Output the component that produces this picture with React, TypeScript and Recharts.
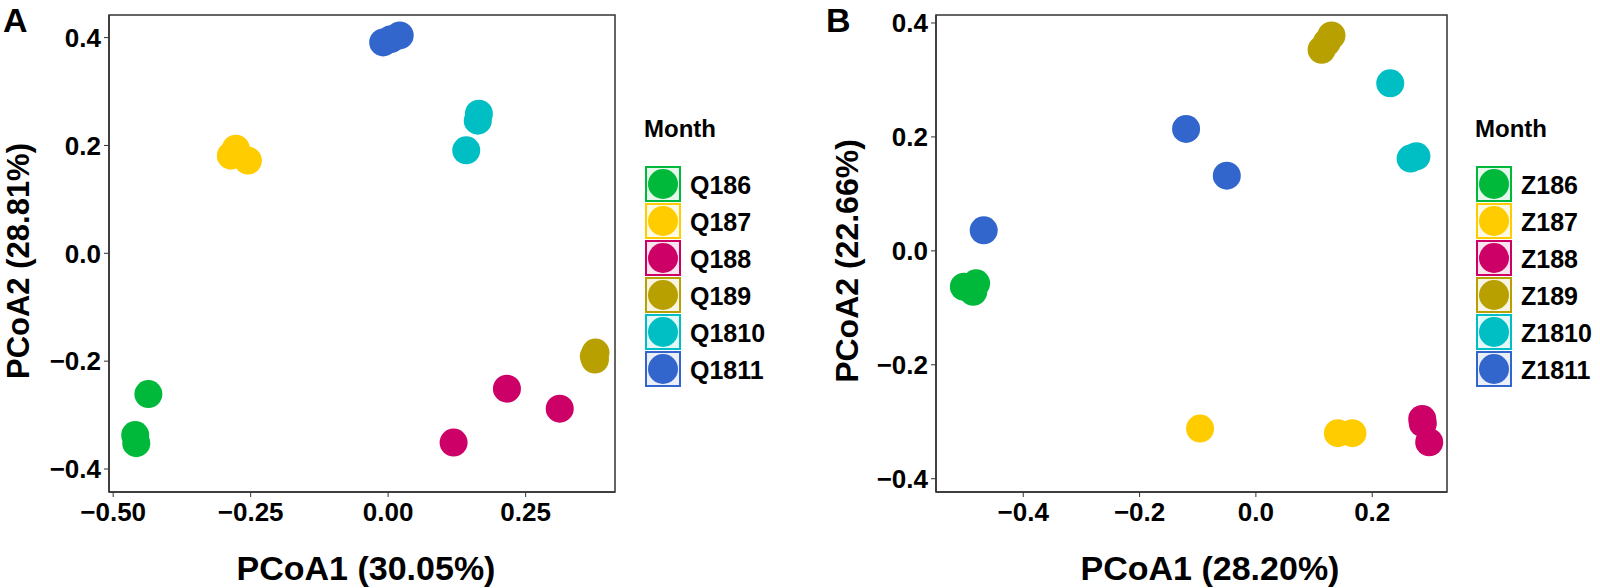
import { ScatterChart, Scatter, XAxis, YAxis, ReferenceArea } from "recharts";

// group colours, same order in both panels
const colors = ["#00B83A", "#FFCC00", "#CC0066", "#B8A000", "#00BFC4", "#3366CC"];
const monthsA = ["Q186", "Q187", "Q188", "Q189", "Q1810", "Q1811"];
const monthsB = ["Z186", "Z187", "Z188", "Z189", "Z1810", "Z1811"];

// panel A points [PCoA1, PCoA2]
const q186 = [[-0.436, -0.261], [-0.46, -0.337], [-0.458, -0.352]];
const q187 = [[-0.277, 0.194], [-0.286, 0.181], [-0.255, 0.172]];
const q188 = [[0.216, -0.251], [0.312, -0.288], [0.119, -0.351]];
const q189 = [[0.377, -0.184], [0.374, -0.191], [0.376, -0.197]];
const q1810 = [[0.165, 0.259], [0.163, 0.246], [0.142, 0.191]];
const q1811 = [[-0.009, 0.391], [0.005, 0.397], [0.021, 0.404]];

// panel B points
const z186 = [[-0.502, -0.063], [-0.481, -0.057], [-0.486, -0.072]];
const z187 = [[-0.096, -0.312], [0.141, -0.32], [0.166, -0.32]];
const z188 = [[0.286, -0.295], [0.287, -0.303], [0.298, -0.336]];
const z189 = [[0.113, 0.353], [0.122, 0.366], [0.13, 0.378]];
const z1810 = [[0.231, 0.294], [0.276, 0.166], [0.266, 0.162]];
const z1811 = [[-0.12, 0.214], [-0.05, 0.132], [-0.468, 0.036]];

const xTicksA = [-0.5, -0.25, 0, 0.25];
const xTicksB = [-0.4, -0.2, 0, 0.2];
const yTicks = [-0.4, -0.2, 0, 0.2, 0.4];

const font = "'Liberation Sans', Arial, Helvetica, sans-serif";

const fmt = (d: number) => (v: number) => {
  const s = Math.abs(v).toFixed(d);
  return v < 0 ? "\u2212" + s : s;
};

const toRows = (pts: number[][]) => pts.map(([x, y]) => ({ x, y }));

function Panel(props: any) {
  const { left, width, yAxisW, rightM, xDom, yDom, xTicks, xDec, groups } = props;
  const tick = { fill: "#000", fontSize: 26, fontWeight: "bold", fontFamily: font };
  return (
    <div style={{ position: "absolute", left, top: 0 }}>
      <ScatterChart width={width} height={588} margin={{ top: 15, right: rightM, bottom: 0, left: 0 }}>
        <XAxis
          type="number"
          dataKey="x"
          domain={xDom}
          ticks={xTicks}
          allowDataOverflow
          tickFormatter={fmt(xDec)}
          height={96}
          tick={tick}
          tickSize={5}
          tickMargin={6}
          axisLine={{ stroke: "#333", strokeWidth: 1.5 }}
          tickLine={{ stroke: "#333" }}
        />
        <YAxis
          type="number"
          dataKey="y"
          domain={yDom}
          ticks={yTicks}
          allowDataOverflow
          tickFormatter={fmt(1)}
          width={yAxisW}
          tick={tick}
          tickSize={5}
          tickMargin={3}
          axisLine={{ stroke: "#333", strokeWidth: 1.5 }}
          tickLine={{ stroke: "#333" }}
        />
        <ReferenceArea x1={xDom[0]} x2={xDom[1]} y1={yDom[0]} y2={yDom[1]} fill="none" stroke="#333" strokeWidth={1.5} />
        {groups.map((g: number[][], i: number) => (
          <Scatter
            key={i}
            data={toRows(g)}
            isAnimationActive={false}
            shape={(p: any) => <circle cx={p.cx} cy={p.cy} r={14} fill={colors[i]} />}
          />
        ))}
      </ScatterChart>
    </div>
  );
}

function Legend({ x, labels }: { x: number; labels: string[] }) {
  return (
    <g fontFamily={font} fontWeight="bold">
      <text x={x - 1} y={137} fontSize={24}>Month</text>
      {labels.map((l, i) => {
        const top = 166 + 37 * i;
        return (
          <g key={l}>
            <rect x={x + 1} y={top + 1} width={34} height={34} fill={colors[i]} fillOpacity={0.1} stroke={colors[i]} strokeWidth={2} />
            <circle cx={x + 18} cy={top + 18} r={15} fill={colors[i]} />
            <text x={x + 45} y={top + 28} fontSize={25}>{l}</text>
          </g>
        );
      })}
    </g>
  );
}

export default function App() {
  return (
    <div style={{ position: "absolute", left: 0, top: 0, width: 1600, height: 588, background: "#fff" }}>
      <Panel left={0} width={640} yAxisW={109} rightM={25} xDom={[-0.5076, 0.4125]} yDom={[-0.4426, 0.4419]}
        xTicks={xTicksA} xDec={2} groups={[q186, q187, q188, q189, q1810, q1811]} />
      <Panel left={800} width={660} yAxisW={136} rightM={13} xDom={[-0.55, 0.3286]} yDom={[-0.4233, 0.414]}
        xTicks={xTicksB} xDec={1} groups={[z186, z187, z188, z189, z1810, z1811]} />
      <svg width={1600} height={588} style={{ position: "absolute", left: 0, top: 0, pointerEvents: "none" }}>
        <g fontFamily={font} fontWeight="bold" fill="#000">
          <text x={3} y={32} fontSize={34}>A</text>
          <text x={826} y={32} fontSize={34}>B</text>
          <text x={366} y={580} fontSize={34} textAnchor="middle">PCoA1 (30.05%)</text>
          <text x={1210} y={580} fontSize={34} textAnchor="middle">PCoA1 (28.20%)</text>
          <text x={29} y={261} fontSize={31} textAnchor="middle" transform="rotate(-90 29 261)">PCoA2 (28.81%)</text>
          <text x={858} y={261} fontSize={32} textAnchor="middle" transform="rotate(-90 858 261)">PCoA2 (22.66%)</text>
        </g>
        <Legend x={645} labels={monthsA} />
        <Legend x={1476} labels={monthsB} />
      </svg>
    </div>
  );
}
